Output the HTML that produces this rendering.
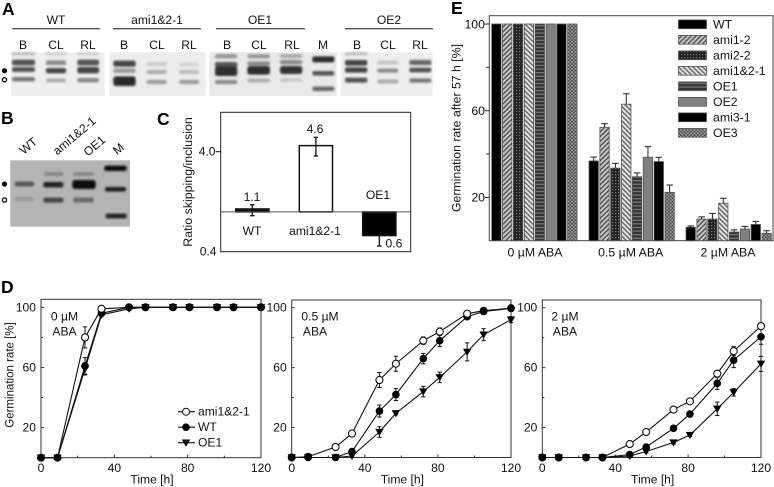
<!DOCTYPE html>
<html>
<head>
<meta charset="utf-8">
<style>
html,body{margin:0;padding:0;background:#fff;overflow:hidden;}
svg{display:block;font-family:"Liberation Sans",sans-serif;fill:#111;filter:blur(0.3px);}
text{font-size:12.1px;}
.tE{font-size:12.3px;}
.L{font-size:17.5px;font-weight:bold;fill:#000;}
</style>
</head>
<body>
<svg id="fig" xmlns="http://www.w3.org/2000/svg" width="774" height="487" viewBox="0 0 774 487">
<defs>
<filter id="b" x="-30%" y="-80%" width="160%" height="260%"><feGaussianBlur stdDeviation="3.4"/></filter>
<pattern id="p-ami12" width="3.4" height="3.4" patternUnits="userSpaceOnUse" patternTransform="rotate(45)"><rect width="3.4" height="3.4" fill="#c9c9c9"/><rect width="1.5" height="3.4" fill="#555"/></pattern>
<pattern id="p-ami22" width="3" height="3" patternUnits="userSpaceOnUse"><rect width="3" height="3" fill="#222"/><rect width="1.2" height="1.2" fill="#777"/></pattern>
<pattern id="p-ami121" width="3.4" height="3.4" patternUnits="userSpaceOnUse" patternTransform="rotate(-45)"><rect width="3.4" height="3.4" fill="#e2e2e2"/><rect width="1.4" height="3.4" fill="#666"/></pattern>
<pattern id="p-oe1" width="4" height="3.6" patternUnits="userSpaceOnUse"><rect width="4" height="3.6" fill="#333"/><rect y="0" width="4" height="1.3" fill="#777"/></pattern>
<pattern id="p-oe3" width="3.4" height="3.4" patternUnits="userSpaceOnUse"><rect width="3.4" height="3.4" fill="#444"/><rect width="1.7" height="1.7" fill="#aaa"/><rect x="1.7" y="1.7" width="1.7" height="1.7" fill="#999"/></pattern>
</defs>

<!-- Panel letters -->
<text class="L" x="2" y="15">A</text>
<text class="L" x="1" y="124">B</text>
<text class="L" x="157" y="125">C</text>
<text class="L" x="1" y="293">D</text>
<text class="L" x="451" y="14">E</text>

<!-- Panel A header -->
<g text-anchor="middle">
<text x="56" y="24">WT</text>
<text x="157" y="24">ami1&amp;2-1</text>
<text x="260" y="24">OE1</text>
<text x="389" y="24">OE2</text>
<text x="23" y="49">B</text>
<text x="56" y="49">CL</text>
<text x="88" y="49">RL</text>
<text x="124" y="49">B</text>
<text x="157" y="49">CL</text>
<text x="189" y="49">RL</text>
<text x="227" y="49">B</text>
<text x="259" y="49">CL</text>
<text x="292" y="49">RL</text>
<text x="323" y="49">M</text>
<text x="357" y="49">B</text>
<text x="388" y="49">CL</text>
<text x="420" y="49">RL</text>
</g>
<g stroke="#111" stroke-width="1">
<line x1="12.3" x2="100" y1="28.7" y2="28.7"/>
<line x1="113" x2="201" y1="28.7" y2="28.7"/>
<line x1="216" x2="305" y1="28.7" y2="28.7"/>
<line x1="345" x2="433" y1="28.7" y2="28.7"/>
</g>

<!-- Gel A drawn in 3x coordinates -->
<g transform="scale(0.33333)">
<rect x="33" y="157" width="281" height="131" fill="#efefef"/>
<rect x="328" y="157" width="289" height="131" fill="#ececec"/>
<rect x="628" y="157" width="382" height="131" fill="#e9e9e9"/>
<rect x="1022" y="157" width="276" height="131" fill="#eeeeee"/>
<g filter="url(#b)">
<rect x="36" y="157" width="69" height="9" fill="#bbb"/><rect x="36" y="179" width="69" height="17" rx="6" fill="#555"/><rect x="36" y="201" width="69" height="15" rx="6" fill="#555"/><rect x="36" y="231" width="69" height="13" rx="6" fill="#777"/>
<rect x="138" y="157" width="60" height="9" fill="#ccc"/><rect x="138" y="181" width="60" height="14" rx="6" fill="#888"/><rect x="138" y="204" width="60" height="16" rx="6" fill="#444"/><rect x="138" y="235" width="60" height="12" rx="6" fill="#aaa"/>
<rect x="232" y="157" width="65" height="9" fill="#ccc"/><rect x="232" y="179" width="65" height="17" rx="6" fill="#555"/><rect x="232" y="201" width="65" height="19" rx="6" fill="#444"/><rect x="232" y="234" width="65" height="13" rx="6" fill="#888"/>
<rect x="340" y="182" width="67" height="18" rx="6" fill="#444"/><rect x="340" y="205" width="67" height="14" rx="6" fill="#999"/><rect x="340" y="229" width="67" height="29" rx="8" fill="#2a2a2a"/>
<rect x="440" y="186" width="60" height="12" rx="6" fill="#ccc"/><rect x="440" y="210" width="60" height="12" rx="6" fill="#aaa"/><rect x="440" y="240" width="60" height="12" rx="6" fill="#999"/>
<rect x="537" y="188" width="60" height="12" rx="6" fill="#d5d5d5"/><rect x="537" y="210" width="60" height="12" rx="6" fill="#bbb"/><rect x="537" y="240" width="60" height="12" rx="6" fill="#999"/>
<rect x="645" y="162" width="67" height="13" rx="6" fill="#999"/><rect x="645" y="186" width="67" height="16" rx="6" fill="#555"/><rect x="645" y="199" width="67" height="29" rx="8" fill="#2e2e2e"/><rect x="645" y="240" width="67" height="12" rx="6" fill="#888"/>
<rect x="742" y="162" width="68" height="13" rx="6" fill="#999"/><rect x="742" y="184" width="68" height="13" rx="6" fill="#888"/><rect x="742" y="198" width="68" height="26" rx="8" fill="#2e2e2e"/><rect x="742" y="236" width="68" height="11" rx="6" fill="#aaa"/>
<rect x="840" y="162" width="67" height="12" rx="6" fill="#aaa"/><rect x="840" y="180" width="67" height="13" rx="6" fill="#888"/><rect x="840" y="198" width="67" height="24" rx="8" fill="#333"/><rect x="840" y="235" width="67" height="10" rx="6" fill="#c5c5c5"/>
<rect x="937" y="169" width="66" height="18" rx="6" fill="#2e2e2e"/><rect x="937" y="213" width="66" height="14" rx="6" fill="#555"/><rect x="937" y="260" width="66" height="13" rx="6" fill="#666"/>
<rect x="1035" y="157" width="67" height="9" fill="#bbb"/><rect x="1035" y="180" width="67" height="17" rx="6" fill="#444"/><rect x="1035" y="202" width="67" height="16" rx="6" fill="#444"/><rect x="1035" y="233" width="67" height="15" rx="6" fill="#555"/>
<rect x="1132" y="182" width="63" height="12" rx="6" fill="#c5c5c5"/><rect x="1132" y="206" width="63" height="12" rx="6" fill="#888"/><rect x="1132" y="238" width="63" height="12" rx="6" fill="#aaa"/>
<rect x="1228" y="180" width="66" height="15" rx="6" fill="#666"/><rect x="1228" y="203" width="66" height="14" rx="6" fill="#555"/><rect x="1228" y="235" width="66" height="13" rx="6" fill="#777"/>
</g>
</g>
<circle cx="4.5" cy="70.7" r="2.6" fill="#000"/>
<circle cx="4.5" cy="79.7" r="2.1" fill="#fff" stroke="#000" stroke-width="1.3"/>

<!-- Panel B -->
<g text-anchor="middle">
<text transform="translate(31,149) rotate(-40)">WT</text>
<text transform="translate(77,139) rotate(-40)">ami1&amp;2-1</text>
<text transform="translate(97,149) rotate(-40)">OE1</text>
<text transform="translate(121,152) rotate(-40)">M</text>
</g>
<g transform="scale(0.33333) translate(0,300)">
<rect x="31" y="181" width="359" height="199" fill="#b4b4b4"/>
<g filter="url(#b)">
<rect x="44" y="245" width="58" height="14" rx="6" fill="#555"/><rect x="44" y="291" width="58" height="12" rx="6" fill="#999"/>
<rect x="132" y="216" width="58" height="12" rx="6" fill="#888"/><rect x="130" y="246" width="60" height="16" rx="6" fill="#222"/><rect x="130" y="293" width="60" height="15" rx="6" fill="#444"/>
<rect x="220" y="216" width="62" height="12" rx="6" fill="#888"/><rect x="217" y="240" width="70" height="27" rx="8" fill="#111"/><rect x="220" y="293" width="62" height="14" rx="6" fill="#666"/>
<rect x="313" y="197" width="67" height="16" rx="6" fill="#111"/><rect x="315" y="261" width="63" height="14" rx="6" fill="#222"/><rect x="317" y="341" width="63" height="14" rx="6" fill="#222"/>
</g>
</g>
<circle cx="4.5" cy="184" r="2.6" fill="#000"/>
<circle cx="4.5" cy="200" r="2.1" fill="#fff" stroke="#000" stroke-width="1.3"/>

<g id="panelC"></g>
<g id="panelE"></g>
<g id="panelD"></g>
</svg>

<script>
/* Panel C data */
var cCategories = ['WT', 'ami1&2-1', 'OE1'];
var cValues = [1.07, 4.6, 0.58];
var cPrinted = ['1.1', '4.6', '0.6'];
var cErrLow = [0.916, 3.62, 0.456];
var cErrHigh = [1.18, 5.57, 0.58];
var cTicks = ['4.0', '0.4'];

/* Panel E data */
var eConditions = ['0 µM ABA', '0.5 µM ABA', '2 µM ABA'];
var eLines = ['WT', 'ami1-2', 'ami2-2', 'ami1&2-1', 'OE1', 'OE2', 'ami3-1', 'OE3'];
var eZero = [100, 100, 100, 100, 100, 100, 100, 100];
var eHalf = [36.8, 52.3, 33.5, 63, 29.5, 38.5, 36.5, 22.3];
var eTwo = [6.2, 10, 10, 17.3, 4, 5.4, 7.5, 3.4];
var eHalfErr = [1.8, 1.7, 2.2, 4.8, 1.8, 4.9, 2, 3.4];
var eTwoErr = [0.6, 1, 2.6, 2.3, 1, 1.2, 1.4, 1.2];
var eTicks = [20, 40, 60, 80, 100];

/* Panel D data */
var dTimes = [0, 9, 24, 33, 48, 57, 72, 81, 96, 105, 120];
var dTicksX = [0, 20, 40, 60, 80, 100, 120];
var dTicksY = [20, 40, 60, 80, 100];
var d0Ami = [0, 0, 80, 99, 100, 100, 100, 100, 100, 100, 100];
var d0Wt = [0, 0, 61, 96, 100, 100, 100, 100, 100, 100, 100];
var d0Oe = [0, 0, 59, 95, 99, 100, 100, 100, 100, 100, 100];
var d0AmiErr = [0, 0, 7, 1, 0, 0, 0, 0, 0, 0, 0];
var d0WtErr = [0, 0, 5.5, 1, 0, 0, 0, 0, 0, 0, 0];
var d0OeErr = [0, 0, 4, 1, 0, 0, 0, 0, 0, 0, 0];
var d1Ami = [0, 0.5, 7, 16, 51.7, 62.6, 78, 84, 96, 98, 99.7];
var d1Wt = [0, 0, 0, 4, 31, 42, 66, 78, 94, 97.5, 99.5];
var d1Oe = [0, 0, 0, 1, 17, 29.5, 44, 53.5, 70.5, 82, 92];
var d1AmiErr = [0, 0, 0, 1, 5, 5, 2.5, 2.5, 1, 1, 1];
var d1WtErr = [0, 0, 0, 1, 4, 4, 3.5, 4, 1.5, 1, 1];
var d1OeErr = [0, 0, 0, 0, 3.5, 1, 3.5, 3.5, 6, 4, 2];
var d2Ami = [0, 0, 0, 0, 9, 17, 32, 37.5, 56, 71, 87.7];
var d2Wt = [0, 0, 0, 0, 2, 7, 19.5, 29, 49.5, 65, 80.6];
var d2Oe = [0, 0, 0, 0, 1, 4, 10, 15, 32.5, 43.5, 62.5];
var d2AmiErr = [0, 0, 0, 0, 1, 1, 1, 1, 1.5, 3, 1.5];
var d2WtErr = [0, 0, 0, 0, 1, 1, 1, 1, 4, 5, 5];
var d2OeErr = [0, 0, 0, 0, 1, 1, 1, 1, 4.5, 2.5, 5];

var NS = 'http://www.w3.org/2000/svg';
function mk(parent, tag, attrs, txt) {
  var el = document.createElementNS(NS, tag);
  for (var k in attrs) el.setAttribute(k, attrs[k]);
  if (txt !== undefined) el.textContent = txt;
  parent.appendChild(el);
  return el;
}
function line(parent, a, b, c, d, col, w) {
  return mk(parent, 'line', {x1: a, y1: b, x2: c, y2: d, stroke: col || '#111', 'stroke-width': w || 1});
}

/* ---------- Panel C ---------- */
(function () {
  var g = document.getElementById('panelC');
  var L = 220.7, R = 410.7, T = 112.3, B = 251.7;
  function y(v) { return B - 100 * Math.log10(v / 0.4); }
  var base = y(1);
  var x0 = [235.7, 299.3, 362.7], w = 33.2;
  var fills = ['#111', '#fff', '#000'];
  var frame = mk(g, 'rect', {x: L, y: T, width: R - L, height: B - T, fill: '#fff', stroke: '#222', 'stroke-width': 1});
  
  
  cValues.forEach(function (v, i) {
    var top = Math.min(y(v), base), h = Math.abs(y(v) - base);
    var bar = mk(g, 'rect', {x: x0[i], y: top, width: w, height: h, fill: fills[i], stroke: '#111', 'stroke-width': 1.5});
    
    
    var cx = x0[i] + w / 2;
    var eb = mk(g, 'g', {});
    
    
    line(eb, cx, y(cErrHigh[i]), cx, y(cErrLow[i]), '#111', 1.3);
    if (i < 2) line(eb, cx - 2.2, y(cErrHigh[i]), cx + 2.2, y(cErrHigh[i]), '#111', 1.3);
    line(eb, cx - 2.2, y(cErrLow[i]), cx + 2.2, y(cErrLow[i]), '#111', 1.3);
  });
  var baseline = line(g, L, base, R, base, '#555', 1);
  
  
  var tick = line(g, L - 5, y(4), L, y(4), '#111', 1);
  
  
  var t1 = mk(g, 'text', {x: 215.5, y: y(4) + 4, 'text-anchor': 'end'}, cTicks[0]);
  
  
  var t2 = mk(g, 'text', {x: 216.5, y: y(0.4) + 4, 'text-anchor': 'end'}, cTicks[1]);
  
  
  var yt = mk(g, 'text', {transform: 'translate(192,182) rotate(-90)', 'text-anchor': 'middle', style: 'font-size:12.4px'}, 'Ratio skipping/inclusion');
  
  
  var p0 = mk(g, 'text', {x: 252, y: 201, 'text-anchor': 'middle'}, cPrinted[0]);
  
  
  var p1 = mk(g, 'text', {x: 315, y: 133, 'text-anchor': 'middle'}, cPrinted[1]);
  
  
  var p2 = mk(g, 'text', {x: 385.5, y: 247.5}, cPrinted[2]);
  
  
  var c0 = mk(g, 'text', {x: 252, y: 235, 'text-anchor': 'middle'}, cCategories[0]);
  
  
  var c1 = mk(g, 'text', {x: 315, y: 235, 'text-anchor': 'middle'}, cCategories[1]);
  
  
  var c2 = mk(g, 'text', {x: 378, y: 199, 'text-anchor': 'middle'}, cCategories[2]);
  
  
})();

/* ---------- Panel E ---------- */
(function () {
  var g = document.getElementById('panelE');
  var L = 489.3, R = 773, T = 15.7, B = 240.7;
  function y(v) { return B - v * 2.167; }
  var starts = [491.7, 589, 686], step = 10.85, w = 9.4;
  var fills = ['#000', 'url(#p-ami12)', 'url(#p-ami22)', 'url(#p-ami121)', 'url(#p-oe1)', '#808080', '#000', 'url(#p-oe3)'];
  var frame = mk(g, 'rect', {x: L, y: T, width: R - L, height: B - T, fill: '#fff', stroke: '#444', 'stroke-width': 1});
  
  
  [eZero, eHalf, eTwo].forEach(function (vals, gi) {
    var errs = [null, eHalfErr, eTwoErr][gi];
    vals.forEach(function (v, i) {
      var x = starts[gi] + i * step;
      var bar = mk(g, 'rect', {x: x, y: y(v), width: w, height: B - y(v), fill: fills[i], stroke: '#555', 'stroke-width': 0.8});
      
      
      if (errs) {
        var cx = x + w / 2, ty = y(v + errs[i]);
        var eb = mk(g, 'g', {});
        
        
        line(eb, cx, y(v), cx, ty, '#222', 1);
        line(eb, cx - 3.3, ty, cx + 3.3, ty, '#222', 1);
      }
    });
  });
  eTicks.forEach(function (t) {
    var major = (t - 20) % 40 === 0;
    var tk = line(g, L - (major ? 4.5 : 3), y(t), L, y(t), '#222', 1);
    
    
    if (major) {
      var lb = mk(g, 'text', {x: 485, y: y(t) + 4.3, 'text-anchor': 'end', 'class': 'tE'}, t);
      
      
    }
  });
  var centers = [535, 630.7, 728];
  eConditions.forEach(function (c, i) {
    var lb = mk(g, 'text', {x: centers[i], y: 256.5, 'text-anchor': 'middle', 'class': 'tE'}, c);
    
    
  });
  var yt = mk(g, 'text', {transform: 'translate(460.5,128) rotate(-90)', 'text-anchor': 'middle', 'class': 'tE'}, 'Germination rate after 57 h [%]');
  
  
  eLines.forEach(function (n, i) {
    var cy = 24.3 + i * 15.5;
    var entry = mk(g, 'g', {});
    
    
    mk(entry, 'rect', {x: 678.5, y: cy - 4.4, width: 28, height: 8.8, fill: fills[i], stroke: '#555', 'stroke-width': 0.8});
    mk(entry, 'text', {x: 713, y: cy + 4.3, 'class': 'tE'}, n);
  });
})();

/* ---------- Panel D ---------- */
(function () {
  var root = document.getElementById('panelD');
  var panels = [
    {L: 41, R: 261, T: 299.3, B: 457.7, top: 307.3, ami: d0Ami, wt: d0Wt, oe: d0Oe, ae: d0AmiErr, we: d0WtErr, oee: d0OeErr, a: '0 µM', ax: 64.5},
    {L: 291.7, R: 511, T: 300, B: 457.5, top: 307.7, ami: d1Ami, wt: d1Wt, oe: d1Oe, ae: d1AmiErr, we: d1WtErr, oee: d1OeErr, a: '0.5 µM', ax: 320},
    {L: 542.3, R: 761, T: 300, B: 457.5, top: 307.7, ami: d2Ami, wt: d2Wt, oe: d2Oe, ae: d2AmiErr, we: d2WtErr, oee: d2OeErr, a: '2 µM', ax: 565}
  ];
  function series(g, P, vals, errs, kind, name) {
    function x(t) { return P.L + t * (P.R - P.L) / 120; }
    function y(v) { return P.B - v * (P.B - P.top) / 100; }
    var s = mk(g, 'g', {});
    
    
    var pts = vals.map(function (v, i) { return x(dTimes[i]) + ',' + y(v); }).join(' ');
    mk(s, 'polyline', {points: pts, fill: 'none', stroke: '#111', 'stroke-width': 1.1});
    vals.forEach(function (v, i) {
      if (errs[i] > 0) {
        var cx = x(dTimes[i]);
        line(s, cx, y(v + errs[i]), cx, y(v - errs[i]), '#111', 1);
        line(s, cx - 2.2, y(v + errs[i]), cx + 2.2, y(v + errs[i]), '#111', 1);
        line(s, cx - 2.2, y(v - errs[i]), cx + 2.2, y(v - errs[i]), '#111', 1);
      }
    });
    vals.forEach(function (v, i) { marker(s, x(dTimes[i]), y(v), kind); });
  }
  function marker(g, cx, cy, kind) {
    if (kind === 'o') mk(g, 'circle', {cx: cx, cy: cy, r: 3.5, fill: '#fff', stroke: '#111', 'stroke-width': 1});
    if (kind === 'c') mk(g, 'circle', {cx: cx, cy: cy, r: 3.8, fill: '#000'});
    if (kind === 'v') mk(g, 'polygon', {points: (cx - 4.2) + ',' + (cy - 3.2) + ' ' + (cx + 4.2) + ',' + (cy - 3.2) + ' ' + cx + ',' + (cy + 4), fill: '#000'});
  }
  panels.forEach(function (P, pi) {
    var g = mk(root, 'g', {});
    
    
    function x(t) { return P.L + t * (P.R - P.L) / 120; }
    function y(v) { return P.B - v * (P.B - P.top) / 100; }
    var frame = mk(g, 'rect', {x: P.L, y: P.T, width: P.R - P.L, height: P.B - P.T, fill: 'none', stroke: '#333', 'stroke-width': 1});
    
    
    dTicksY.forEach(function (t) {
      var major = (t - 20) % 40 === 0;
      var tk = line(g, P.L, y(t), P.L + (major ? 3 : 2), y(t), '#333', 1);
      
      
      if (major) {
        var lb = mk(g, 'text', {x: P.L - 5, y: y(t) + 4, 'text-anchor': 'end'}, t);
        
        
      }
    });
    dTicksX.forEach(function (t) {
      var major = t % 40 === 0;
      var tk = line(g, x(t), P.B, x(t), P.B - (major ? 3 : 2), '#333', 1);
      
      
      if (major) {
        var lb = mk(g, 'text', {x: x(t), y: 472, 'text-anchor': 'middle'}, t);
        
        
      }
    });
    var xt = mk(g, 'text', {x: x(60) + 1, y: 483.5, 'text-anchor': 'middle'}, 'Time [h]');
    
    
    var a1 = mk(g, 'text', {x: P.ax, y: 320.5, 'text-anchor': 'middle'}, P.a);
    
    
    var a2 = mk(g, 'text', {x: P.ax + (pi === 1 ? -5 : 0), y: 335.5, 'text-anchor': 'middle'}, 'ABA');
    
    
    series(g, P, P.ami, P.ae, 'o', 'ami1-2-1');
    series(g, P, P.oe, P.oee, 'v', 'oe1');
    series(g, P, P.wt, P.we, 'c', 'wt');
    var top = mk(g, 'g', {});
    
    
    P.ami.forEach(function (v, i) {
      if (v - P.wt[i] >= 1) marker(top, x(dTimes[i]), y(v), 'o');
    });
  });
  var legend = mk(root, 'g', {});
  
  
  var names = ['ami1&2-1', 'WT', 'OE1'], kinds = ['o', 'c', 'v'];
  names.forEach(function (n, i) {
    var cy = 411.7 + i * 15.5;
    line(legend, 178, cy, 195, cy, '#111', 1.1);
    marker(legend, 186, cy, kinds[i]);
    mk(legend, 'text', {x: 198, y: cy + 4}, n);
  });
  var yt = mk(root, 'text', {transform: 'translate(13.5,375) rotate(-90)', 'text-anchor': 'middle', style: 'font-size:11.5px'}, 'Germination rate [%]');
  
  
})();
</script>
</body>
</html>
